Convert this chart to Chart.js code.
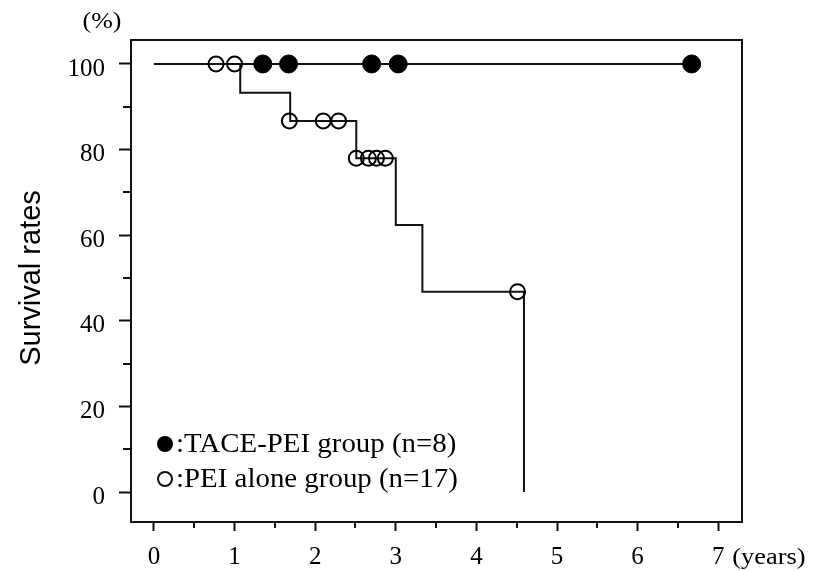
<!DOCTYPE html>
<html>
<head>
<meta charset="utf-8">
<script src="https://cdn.jsdelivr.net/npm/chart.js@4/dist/chart.umd.min.js"></script>
<style>
  html, body { margin: 0; padding: 0; background: #fff; }
  #wrap { width: 825px; height: 571px; }
</style>
</head>
<body>
<div id="wrap"><canvas id="c" width="825" height="571"></canvas></div>
<script>
// ---- Data ----
const xTickValues = [0, 1, 2, 3, 4, 5, 6, 7];
const yTickValues = [0, 20, 40, 60, 80, 100];
const xMinorTicks = [0.5, 1.5, 2.5, 3.5, 4.5, 5.5, 6.5];
const yMinorTicks = [10, 30, 50, 70, 90];

// TACE-PEI group: survival curve stays at 100 %
const taceLineTimes = [0, 6.67];
const taceLineSurv = [100, 100];
const taceCensorTimes = [1.35, 1.67, 2.70, 3.03, 6.67];
const taceCensorSurv = [100, 100, 100, 100, 100];

// PEI alone group: Kaplan-Meier steps (time of event, survival after event)
const peiStepTimes = [0, 1.07, 1.69, 2.51, 3.00, 3.33, 4.59];
const peiStepSurv = [100, 93.3, 86.7, 78.0, 62.4, 46.8, 0];
const peiCensorTimes = [0.77, 1.00, 1.68, 2.10, 2.29, 2.51, 2.66, 2.76, 2.87, 4.51];
const peiCensorSurv = [100, 100, 86.7, 86.7, 86.7, 78.0, 78.0, 78.0, 78.0, 46.8];

const legendLabels = [':TACE-PEI group (n=8)', ':PEI alone group (n=17)'];
const yAxisTitle = 'Survival rates';
const yUnit = '(%)';
const xUnit = '(years)';

// ---- helpers ----
const pts = (xs, ys) => xs.map((x, i) => ({ x: x, y: ys[i] }));
const SERIF = "'Liberation Serif', 'Times New Roman', serif";
const SANS = "'Liberation Sans', Arial, sans-serif";
const INK = '#111';

function wideText(ctx, text, x, y, sx) {
  ctx.save();
  ctx.translate(x, y);
  ctx.scale(sx, 1);
  ctx.fillText(text, 0, 0);
  ctx.restore();
}

const extras = {
  id: 'extras',
  afterDraw(chart) {
    const ctx = chart.ctx;
    const a = chart.chartArea;
    const xs = chart.scales.x, ys = chart.scales.y;
    ctx.save();
    ctx.strokeStyle = INK;
    ctx.lineWidth = 2;
    // top and right frame
    ctx.beginPath();
    ctx.moveTo(a.left, a.top);
    ctx.lineTo(a.right, a.top);
    ctx.lineTo(a.right, a.bottom);
    ctx.stroke();
    // minor ticks
    xMinorTicks.forEach(v => {
      const px = Math.round(xs.getPixelForValue(v));
      ctx.beginPath(); ctx.moveTo(px, a.bottom); ctx.lineTo(px, a.bottom + 6); ctx.stroke();
    });
    yMinorTicks.forEach(v => {
      const py = Math.round(ys.getPixelForValue(v));
      ctx.beginPath(); ctx.moveTo(a.left, py); ctx.lineTo(a.left - 8, py); ctx.stroke();
    });
    // texts
    ctx.fillStyle = '#000';
    ctx.font = '24px ' + SERIF;
    ctx.textAlign = 'center';
    ctx.textBaseline = 'middle';
    wideText(ctx, yUnit, 102, 22, 1.08);
    ctx.textAlign = 'left';
    wideText(ctx, xUnit, xs.getPixelForValue(7) + 14, 558, 1.1);
    // y title
    ctx.save();
    ctx.translate(32, (ys.getPixelForValue(0) + ys.getPixelForValue(100)) / 2);
    ctx.rotate(-Math.PI / 2);
    ctx.textAlign = 'center';
    ctx.textBaseline = 'middle';
    ctx.font = '29px ' + SANS;
    ctx.fillText(yAxisTitle, 0, 0);
    ctx.restore();
    // legend
    const lx = a.left + 34;
    const ly1 = 444, ly2 = 479;
    ctx.beginPath(); ctx.arc(lx, ly1, 8, 0, Math.PI * 2); ctx.fillStyle = '#000'; ctx.fill();
    ctx.beginPath(); ctx.arc(lx, ly2, 7, 0, Math.PI * 2); ctx.lineWidth = 2; ctx.stroke();
    ctx.font = '27px ' + SERIF;
    ctx.textAlign = 'left';
    ctx.textBaseline = 'middle';
    wideText(ctx, legendLabels[0], lx + 11, ly1 + 1, 1.07);
    wideText(ctx, legendLabels[1], lx + 11, ly2 + 1, 1.07);
    ctx.restore();
  }
};

new Chart(document.getElementById('c'), {
  type: 'scatter',
  data: {
    datasets: [
      { // TACE-PEI censor marks (filled)
        data: pts(taceCensorTimes, taceCensorSurv),
        showLine: false, pointStyle: 'circle', pointRadius: 9,
        pointBackgroundColor: '#000', pointBorderColor: '#000', pointBorderWidth: 1
      },
      { // PEI alone censor marks (open)
        data: pts(peiCensorTimes, peiCensorSurv),
        showLine: false, pointStyle: 'circle', pointRadius: 7.5,
        pointBackgroundColor: 'rgba(0,0,0,0)', pointBorderColor: '#000', pointBorderWidth: 2
      },
      { // TACE-PEI line
        data: pts(taceLineTimes, taceLineSurv),
        showLine: true, pointRadius: 0, borderColor: INK, borderWidth: 2
      },
      { // PEI alone KM step line
        data: pts(peiStepTimes, peiStepSurv),
        showLine: true, stepped: 'before', pointRadius: 0, borderColor: INK, borderWidth: 2
      }
    ]
  },
  options: {
    responsive: false,
    animation: false,
    devicePixelRatio: 1,
    layout: { padding: { left: 0, top: 40, right: 83, bottom: 0 } },
    plugins: { legend: { display: false }, tooltip: { enabled: false } },
    scales: {
      x: {
        type: 'linear', min: -0.285, max: 7.295,
        afterBuildTicks: s => { s.ticks = xTickValues.map(v => ({ value: v })); },
        afterFit: s => { s.height = 49; },
        grid: { drawOnChartArea: false, drawTicks: true, tickLength: 9, tickColor: INK, tickWidth: 2 },
        border: { display: true, color: INK, width: 2 },
        ticks: { color: '#000', font: { family: SERIF, size: 25 }, padding: 11, maxRotation: 0 }
      },
      y: {
        type: 'linear', min: -7, max: 105.6,
        afterBuildTicks: s => { s.ticks = yTickValues.map(v => ({ value: v })); },
        afterFit: s => { s.width = 131; },
        grid: { drawOnChartArea: false, drawTicks: true, tickLength: 12, tickColor: INK, tickWidth: 2 },
        border: { display: true, color: INK, width: 2 },
        ticks: { color: '#000', font: { family: SERIF, size: 25 }, padding: 14, labelOffset: 5 }
      }
    }
  },
  plugins: [extras]
});
</script>
</body>
</html>
